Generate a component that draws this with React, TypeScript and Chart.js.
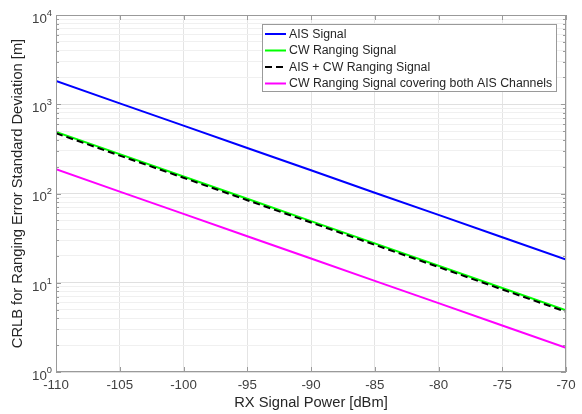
import React, { useEffect, useRef } from "react";
import { Chart, registerables } from "chart.js";

Chart.register(...registerables);

const powerDbm = [-110, -105, -100, -95, -90, -85, -80, -75, -70];
const aisSignal = [1820, 1023, 576, 324, 182, 102, 57.6, 32.4, 18.2];
const cwSignal = [490, 276, 155, 87.2, 49, 27.6, 15.5, 8.72, 4.9];
const aisCwSignal = [473, 266, 150, 84.1, 47.3, 26.6, 15.0, 8.41, 4.73];
const cwBothChannels = [187, 105, 59.1, 33.2, 18.7, 10.5, 5.91, 3.32, 1.87];

const seriesLabels = [
  "AIS Signal",
  "CW Ranging Signal",
  "AIS + CW Ranging Signal",
  "CW Ranging Signal covering both AIS Channels",
];
const seriesColors = ["#0000ff", "#00ff00", "#000000", "#ff00ff"];
const xTickValues = [-110, -105, -100, -95, -90, -85, -80, -75, -70];
const yDecades = [0, 1, 2, 3, 4];

const FONT = "'Liberation Sans', Arial, Helvetica, sans-serif";
const AXIS_COLOR = "#9a9a9a";
const TEXT_COLOR = "#404040";

function yGridValues(): number[] {
  const out: number[] = [];
  for (let k = 0; k < 4; k++) {
    for (let m = 1; m < 10; m++) out.push(m * Math.pow(10, k));
  }
  out.push(10000);
  return out;
}

const matlabPlugin = {
  id: "matlabDecor",
  afterDatasetsDraw(chart: any) {
    const { ctx, chartArea } = chart;
    const xs = chart.scales.x;
    const ys = chart.scales.y;
    const { left, right, top, bottom } = chartArea;
    ctx.save();
    // box (top & right)
    ctx.strokeStyle = AXIS_COLOR;
    ctx.lineWidth = 1;
    ctx.beginPath();
    ctx.moveTo(left, top + 0.5);
    ctx.lineTo(right, top + 0.5);
    ctx.moveTo(right - 0.5, top);
    ctx.lineTo(right - 0.5, bottom);
    ctx.moveTo(left + 0.5, top);
    ctx.lineTo(left + 0.5, bottom);
    ctx.moveTo(left, bottom - 0.5);
    ctx.lineTo(right, bottom - 0.5);
    ctx.stroke();
    // inward ticks x
    ctx.beginPath();
    for (const v of xTickValues) {
      const px = Math.round(xs.getPixelForValue(v)) + 0.5;
      ctx.moveTo(px, bottom);
      ctx.lineTo(px, bottom - 5);
      ctx.moveTo(px, top);
      ctx.lineTo(px, top + 5);
    }
    // inward ticks y
    for (const v of yGridValues()) {
      const py = Math.round(ys.getPixelForValue(v)) + 0.5;
      const major = Math.abs(Math.log10(v) - Math.round(Math.log10(v))) < 1e-9;
      const len = major ? 5 : 3;
      ctx.moveTo(left, py);
      ctx.lineTo(left + len, py);
      ctx.moveTo(right, py);
      ctx.lineTo(right - len, py);
    }
    ctx.stroke();

    // y tick labels with superscripts
    ctx.fillStyle = TEXT_COLOR;
    ctx.textBaseline = "alphabetic";
    for (const k of yDecades) {
      const py = ys.getPixelForValue(Math.pow(10, k));
      ctx.font = `9.3px ${FONT}`;
      const expText = String(k);
      const expW = ctx.measureText(expText).width;
      const expX = left - 4 - expW;
      ctx.textAlign = "left";
      ctx.fillText(expText, expX, py + 0.8);
      ctx.font = `13.3px ${FONT}`;
      ctx.textAlign = "right";
      ctx.fillText("10", expX, py + 7.8);
    }

    // legend
    ctx.font = `12.3px ${FONT}`;
    let maxW = 0;
    const labels = chart.data.datasets.map((d: any) => d.label);
    for (const l of labels) maxW = Math.max(maxW, ctx.measureText(l).width);
    const bRight = right - 9;
    const bTop = top + 9;
    const bLeft = Math.round(bRight - (27 + maxW + 5));
    const rowH = 16.5;
    const bH = 68;
    ctx.fillStyle = "#ffffff";
    ctx.fillRect(bLeft, bTop, bRight - bLeft, bH);
    ctx.strokeStyle = AXIS_COLOR;
    ctx.lineWidth = 1;
    ctx.strokeRect(bLeft + 0.5, bTop + 0.5, bRight - bLeft - 1, bH - 1);
    chart.data.datasets.forEach((d: any, i: number) => {
      const ry = bTop + 10 + i * rowH;
      ctx.strokeStyle = d.borderColor;
      ctx.lineWidth = 2;
      ctx.setLineDash(d.borderDash || []);
      ctx.beginPath();
      ctx.moveTo(bLeft + 3, ry);
      ctx.lineTo(bLeft + 24, ry);
      ctx.stroke();
      ctx.setLineDash([]);
      ctx.fillStyle = "#262626";
      ctx.textAlign = "left";
      ctx.textBaseline = "middle";
      ctx.fillText(d.label, bLeft + 27, ry + 0.5);
    });
    ctx.restore();
  },
};

export default function App() {
  const ref = useRef<HTMLCanvasElement>(null);
  useEffect(() => {
    if (!ref.current) return;
    Chart.defaults.font.family = FONT;
    const series = [aisSignal, cwSignal, aisCwSignal, cwBothChannels];
    const chart = new Chart(ref.current, {
      type: "line",
      data: {
        datasets: series.map((vals, i) => ({
          label: seriesLabels[i],
          data: vals.map((y, j) => ({ x: powerDbm[j], y })),
          borderColor: seriesColors[i],
          backgroundColor: seriesColors[i],
          borderWidth: 2,
          borderDash: i === 2 ? [7, 4] : [],
          pointRadius: 0,
          tension: 0,
          fill: false,
          order: 4 - i,
        })),
      },
      options: {
        animation: false,
        responsive: true,
        maintainAspectRatio: false,
        layout: { padding: { left: 0, top: 15, right: 16, bottom: 0 } },
        plugins: { legend: { display: false }, tooltip: { enabled: false } },
        scales: {
          x: {
            type: "linear",
            min: -110,
            max: -70,
            afterBuildTicks: (scale: any) => {
              scale.ticks = xTickValues.map((v) => ({ value: v }));
            },
            afterFit: (scale: any) => {
              scale.height = 42;
            },
            ticks: {
              color: TEXT_COLOR,
              font: { size: 13.3, family: FONT },
              padding: 5,
              maxRotation: 0,
              autoSkip: false,
              callback: (v: any) => String(v),
            },
            grid: { color: "#e4e4e4", drawTicks: false },
            border: { display: false },
            title: {
              display: true,
              text: "RX Signal Power [dBm]",
              color: "#262626",
              font: { size: 14.7, family: FONT },
              padding: { top: 0, bottom: 2 },
            },
          },
          y: {
            type: "logarithmic",
            min: 1,
            max: 10000,
            afterBuildTicks: (scale: any) => {
              scale.ticks = yGridValues().map((v) => ({ value: v }));
            },
            afterFit: (scale: any) => {
              scale.width = 56;
            },
            ticks: { display: false },
            grid: {
              drawTicks: false,
              color: (c: any) => {
                const v = c.tick ? c.tick.value : 1;
                const lg = Math.log10(v);
                return Math.abs(lg - Math.round(lg)) < 1e-9 ? "#e0e0e0" : "#f0f0f0";
              },
            },
            border: { display: false },
            title: {
              display: true,
              text: "CRLB for Ranging Error Standard Deviation [m]",
              color: "#262626",
              font: { size: 14.7, family: FONT },
              padding: { top: 9, bottom: 0 },
            },
          },
        },
      },
      plugins: [matlabPlugin],
    } as any);
    return () => chart.destroy();
  }, []);
  return (
    <div
      style={{
        position: "fixed",
        left: 0,
        top: 0,
        width: 582,
        height: 414,
        background: "#ffffff",
      }}
    >
      <canvas ref={ref} />
    </div>
  );
}
